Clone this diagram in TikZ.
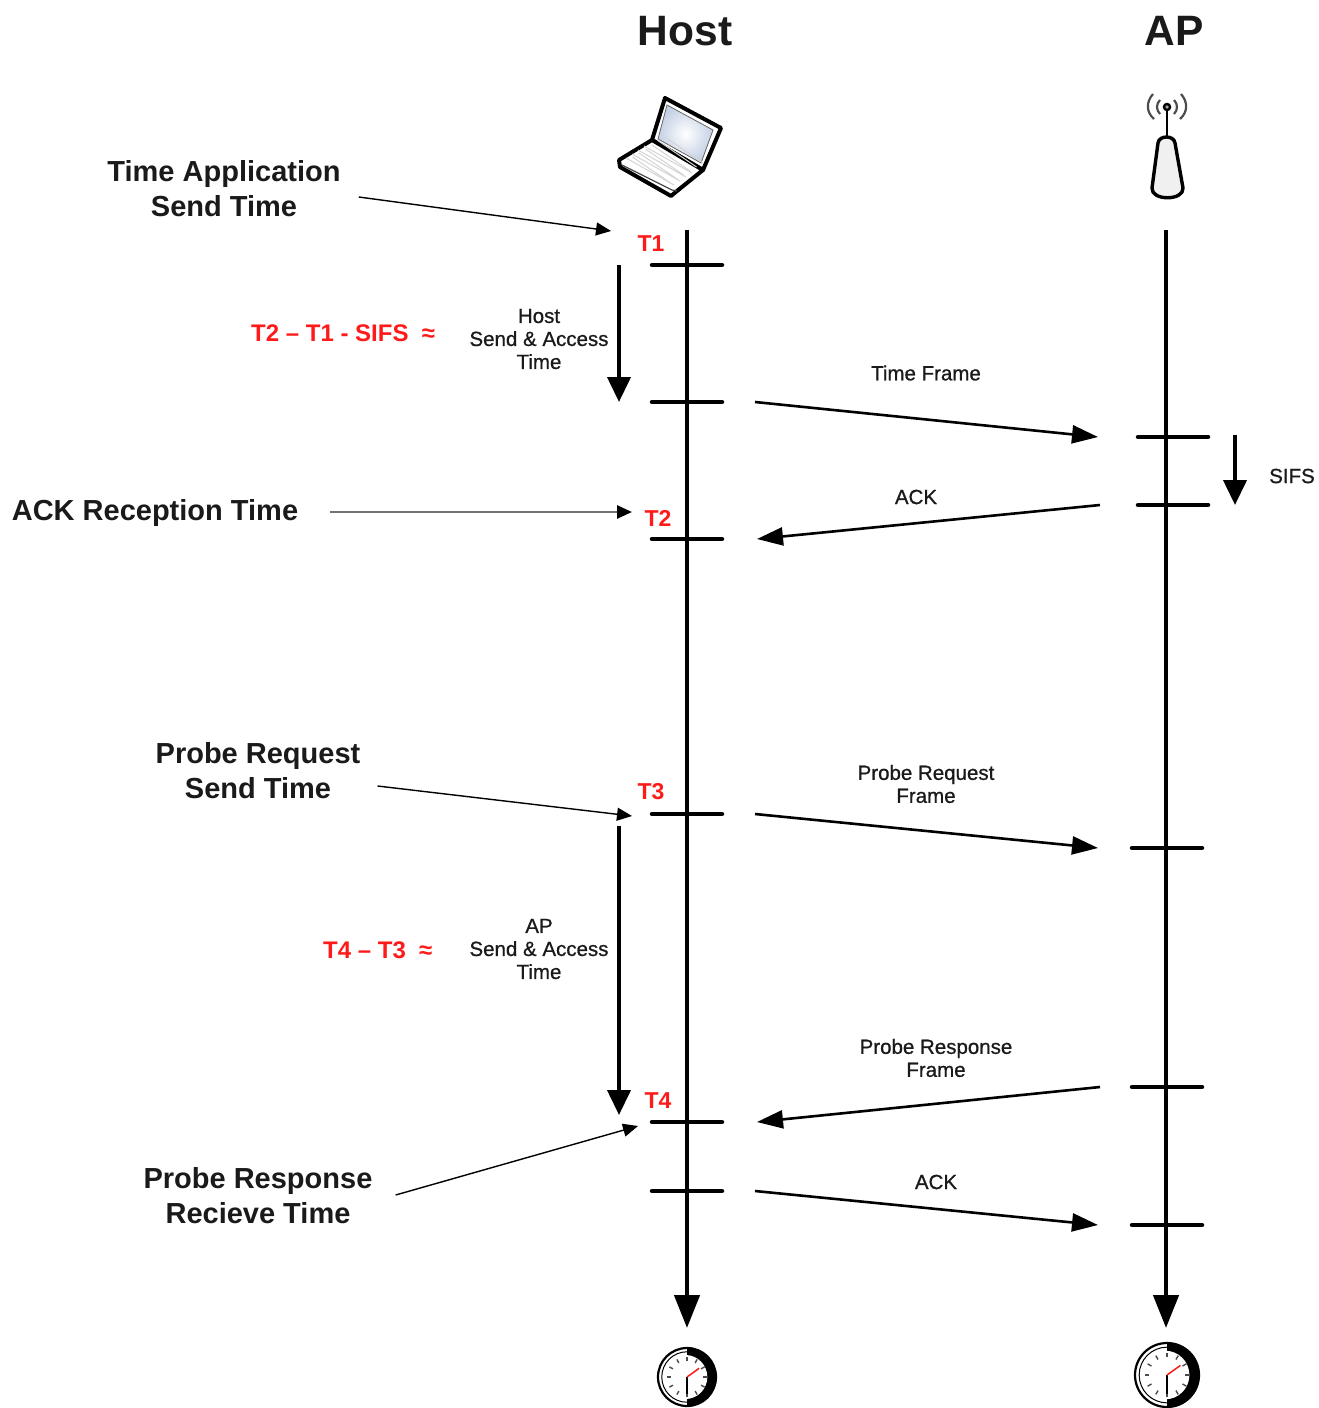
\documentclass[tikz,border=0pt]{standalone}
\usepackage{fontspec}
\setmainfont{Liberation Sans}
\newfontfamily\framefont[FakeBold=0.8]{Liberation Sans}
\usetikzlibrary{arrows.meta,positioning}
\definecolor{LabelRed}{HTML}{FF1A1A}
\definecolor{InkDark}{HTML}{1A1A1A}
\definecolor{ScreenBlue}{HTML}{C4D0E4}
\definecolor{KeyGray}{HTML}{D4D4D4}
\tikzset{
  bigtitle/.style={font=\fontsize{42.5}{46}\selectfont\bfseries,text=InkDark,inner sep=0pt},
  timelabel/.style={font=\fontsize{29}{35}\selectfont\bfseries,text=InkDark,align=center,inner sep=0pt},
  framelabel/.style={font=\fontsize{20.5}{23}\selectfont\framefont,text=InkDark,align=center,inner sep=0pt},
  redlabel/.style={font=\fontsize{23}{26}\selectfont\bfseries,text=LabelRed,inner sep=0pt},
  diffree/.style={redlabel,font=\fontsize{24}{26}\selectfont\bfseries,anchor=west},
  lifeline/.style={line width=4.5pt,-{Triangle[length=33pt,width=25pt]}},
  tickmark/.style={line width=4.5pt,line cap=round},
  framearrow/.style={line width=2.6pt,-{Triangle[length=26pt,width=18pt]}},
  thinarrow/.style={line width=1.4pt,-{Triangle[length=15pt,width=13pt]}},
  spanarrow/.style={line width=4pt,-{Triangle[length=25pt,width=23pt]}}
}
\begin{document}
\begin{tikzpicture}[x=1pt,y=-1pt]
  \useasboundingbox (0,0) rectangle (1319,1408);
  % headers
  \node[bigtitle] (hosttitle) at (685,31) {Host};
  \node[bigtitle] (aptitle) at (1174,31) {AP};
  % time points on both lines
  \foreach \n/\x/\y in {h1/687/265,h2/687/402,h3/687/539,h4/687/814,h5/687/1122,h6/687/1191,
      a1/1166/437,a2/1166/505,a3/1166/848,a4/1166/1087,a5/1166/1225,
      hosttop/687/230,hostend/687/1328,aptop/1166/230,apend/1166/1328,
      t1in/611/231,t2in/632/512,t3in/632/816,t4in/638/1126} {
    \coordinate (\n) at (\x,\y);
  }
  \draw[lifeline] (hosttop) -- (hostend);
  \draw[lifeline] (aptop) -- (apend);
  \foreach \n/\l/\r in {h1/-35/35,h2/-35/35,h3/-35/35,h4/-35/35,h5/-35/35,h6/-35/35,
      a1/-28/42,a2/-28/42,a3/-34/36,a4/-34/36,a5/-34/36} {
    \draw[tickmark] ([xshift=\l pt]\n) -- ([xshift=\r pt]\n);
  }
  % frames on the air
  \foreach \a/\b in {h2/a1,h4/a3,h6/a5} {
    \draw[framearrow] ([xshift=68pt]\a) -- ([xshift=-68pt]\b);
  }
  \foreach \a/\b in {a2/h3,a4/h5} {
    \draw[framearrow] ([xshift=-66pt]\a) -- ([xshift=70pt]\b);
  }
  \node[framelabel] (timeframe) at (926,373) {Time Frame};
  \node[framelabel] (ackone) at (916,497) {ACK};
  \node[framelabel] (reqframe) at (926,784) {Probe Request\\Frame};
  \node[framelabel] (respframe) at (936,1058) {Probe Response\\Frame};
  \node[framelabel] (acktwo) at (936,1182) {ACK};
  \node[framelabel] (sifs) at (1292,476) {SIFS};
  % spans next to the host line
  \draw[spanarrow] ([xshift=-68pt]h1) -- ([xshift=-68pt]h2);
  \draw[spanarrow] ([shift={(-68,12)}]h4) -- ([shift={(-68,-7)}]h5);
  \draw[spanarrow] ([shift={(69,-2)}]a1) -- ([xshift=69pt]a2);
  \node[framelabel] (hostspan) at (539,339) {Host\\Send \& Access\\Time};
  \node[framelabel] (apspan) at (539,949) {AP\\Send \& Access\\Time};
  % red marks
  \node[redlabel] (t1) at (651,244) {T1};
  \node[redlabel] (t2) at (658,518) {T2};
  \node[redlabel] (t3) at (651,792) {T3};
  \node[redlabel] (t4) at (658,1101) {T4};
  \node[diffree] (hostdiff) at (251,333) {T2 – T1 - SIFS~~≈};
  \node[diffree] (apdiff) at (323,950) {T4 – T3~~≈};
  % send and receive times
  \node[timelabel] (applabel) at (224,189) {Time Application\\Send Time};
  \node[timelabel] (acklabel) at (155,513) {ACK Reception Time};
  \node[timelabel] (reqlabel) at (258,771) {Probe Request\\Send Time};
  \node[timelabel] (resplabel) at (258,1196) {Probe Response\\Recieve Time};
  \draw[thinarrow] ([shift={(18,8)}]applabel.east) -- (t1in);
  \draw[line width=2.6pt,draw=black!55,-{Triangle[length=15pt,width=13pt,black]}] ([shift={(32,-1)}]acklabel.east) -- (t2in);
  \draw[thinarrow] ([shift={(17,15)}]reqlabel.east) -- (t3in);
  \draw[thinarrow] ([shift={(23,-1)}]resplabel.east) -- (t4in);
  % laptop
  \draw[line width=4pt,line join=round,fill=white] (652,140) -- (665,98) -- (721,128) -- (703,170) -- cycle;
  \draw[line width=.8pt,black!60,inner color=white,outer color=ScreenBlue] (667,105) -- (713,130) -- (701,163) -- (658,139) -- cycle;
  \draw[line width=4pt,line join=round,fill=white] (652,140) -- (619,160) -- (620,167) -- (671,196) -- (677,191) -- (703,170) -- cycle;
  \draw[line width=1.2pt,black!70] (622,165) -- (672,190) -- (677,191);
  \foreach \i in {1,...,4} {
    \draw[KeyGray,line width=1pt] (650-6*\i,142+4*\i) -- (698-6*\i,169+4*\i);
  }
  \foreach \i in {1,...,6} {
    \draw[KeyGray,line width=1pt] (626+6.5*\i,161-4*\i) -- (664+6.5*\i,187-4*\i);
  }
  % access point
  \draw[line width=3.4pt,line join=round,fill=black!6] (1158,143) .. controls (1159,135) and (1174,135) .. (1175,143) -- (1183,188) .. controls (1184,201) and (1151,201) .. (1152,188) -- cycle;
  \draw[line width=2.6pt] (1167,107) -- (1167,137);
  \filldraw[fill=black!35,line width=2.4pt] (1167,107) circle (3pt);
  \foreach \s in {1,-1} {
    \draw[line width=2.2pt,black!70] (1167+\s*7,100) .. controls (1167+\s*11,104) and (1167+\s*11,110) .. (1167+\s*7,114);
    \draw[line width=2.2pt,black!70] (1167+\s*14,94) .. controls (1167+\s*21,102) and (1167+\s*21,112) .. (1167+\s*13,119);
  }
  % clocks
  \foreach \x/\y/\r in {687/1377/29,1167/1375/32} {
    \fill[white] (\x,\y) circle (\r pt);
    \draw[line width=2.2pt] (\x,\y) circle (\r pt);
    \draw[line width=1pt] (\x,\y) circle (\r*0.87 pt);
    \begin{scope}
      \clip (\x,\y-\r-2) rectangle (\x+\r+2,\y+\r+2);
      \fill[black] (\x,\y) circle (\r pt);
      \fill[white] (\x-\r*0.06,\y) circle (\r*0.76 pt);
    \end{scope}
    \foreach \a in {0,30,...,330} {
      \draw[line width=1.4pt,black!70] (\x+\r*0.56*cos \a,\y+\r*0.56*sin \a) -- (\x+\r*0.7*cos \a,\y+\r*0.7*sin \a);
    }
    \draw[line width=1.8pt] (\x,\y) -- (\x,\y+\r*0.6);
    \draw[line width=1.5pt,LabelRed] (\x,\y) -- (\x+\r*0.42,\y-\r*0.3);
  }
\end{tikzpicture}
\end{document}
